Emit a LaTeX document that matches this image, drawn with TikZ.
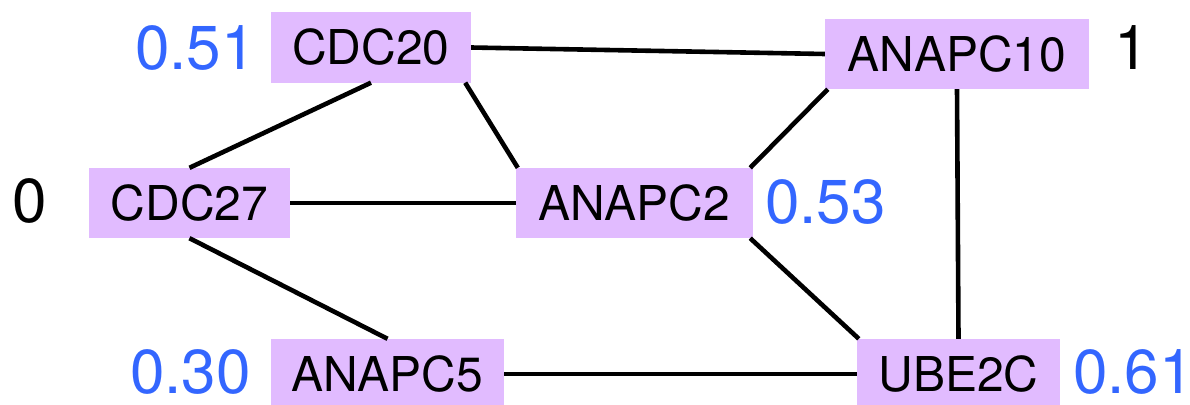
\documentclass[tikz,border=0pt]{standalone}
\usepackage{fontspec}
\setmainfont{TeX Gyre Heros}
\definecolor{genefill}{RGB}{225,187,255}
\definecolor{scoreblue}{RGB}{51,102,255}
\begin{document}
\begin{tikzpicture}[x=1pt,y=-1pt,
  gene/.style={fill=genefill,inner sep=0pt,minimum height=70pt,
    font=\fontsize{48}{56}\selectfont},
  link/.style={line width=4.6pt,black},
  score/.style={font=\fontsize{62}{70}\selectfont,inner sep=0pt,text=scoreblue},
  rank/.style={font=\fontsize{62}{70}\selectfont,inner sep=0pt,text=black}]
\useasboundingbox (0,0) rectangle (1190,404);

% gene boxes
\node[gene,minimum width=200pt] (cdc20)   at (371,47.5)  {CDC20};
\node[gene,minimum width=264pt] (anapc10) at (957,54)    {ANAPC10};
\node[gene,minimum width=201pt] (cdc27)   at (189.5,203) {CDC27};
\node[gene,minimum width=237pt] (anapc2)  at (634.5,203) {ANAPC2};
\node[gene,minimum width=233pt] (anapc5)  at (387.5,374) {ANAPC5};
\node[gene,minimum width=203pt] (ube2c)   at (958.5,374) {UBE2C};

% interactions
\draw[link] (cdc20.east) -- (anapc10.west);
\draw[link] (cdc20.south) -- (cdc27.north);
\draw[link] ([xshift=-6pt]cdc20.south east) -- ([xshift=2pt]anapc2.north west);
\draw[link] ([xshift=3pt]anapc10.south west) -- ([xshift=-3pt]anapc2.north east);
\draw[link] (anapc10.south) -- (ube2c.north);
\draw[link] (cdc27.east) -- (anapc2.west);
\draw[link] (cdc27.south) -- (anapc5.north);
\draw[link] ([xshift=-3pt]anapc2.south east) -- ([xshift=2pt]ube2c.north west);
\draw[link] (anapc5.east) -- (ube2c.west);

% scores beside the boxes
\node[score,anchor=base east] (s20)  at (256,70)  {0.51};
\node[score,anchor=base west] (s2)   at (765,223) {0.53};
\node[score,anchor=base east] (s5)   at (251,393) {0.30};
\node[score,anchor=base west] (sube) at (1073,393) {0.61};
\node[rank,anchor=base west]  (r10)  at (1114,70) {1};
\node[rank,anchor=base west]  (r27)  at (12,222)  {0};
\end{tikzpicture}
\end{document}
